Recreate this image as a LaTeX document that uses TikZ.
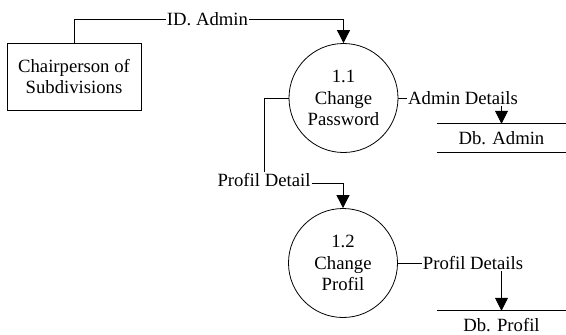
\documentclass[tikz,border=0pt]{standalone}
\usepackage{fontspec}
\setmainfont{Liberation Serif}
\usetikzlibrary{arrows.meta}
\begin{document}
\begin{tikzpicture}[x=1pt,y=-1pt,
  every node/.style={font=\fontsize{18.7}{21.5}\selectfont},
  flow/.style={line width=0.8pt},
  arr/.style={flow,-{Triangle[width=13pt,length=13pt]}},
  proc/.style={circle,draw,line width=0.8pt,minimum size=109pt,inner sep=0pt,align=center},
  ent/.style={draw,line width=0.8pt,minimum width=134pt,minimum height=67pt,align=center,inner sep=0pt},
  store/.style={minimum width=129pt,minimum height=28pt,inner sep=0pt},
  lbl/.style={inner sep=1pt}]
\useasboundingbox (0,0) rectangle (566,335);
\node[ent] (chair) at (74,76.5) {Chairperson of\\Subdivisions};
\node[proc] (c11) at (343.5,98) {1.1\\Change\\Password};
\node[proc] (c12) at (343,263) {1.2\\Change\\Profil};
\node[lbl] (id) at (207.5,19) {ID. Admin};
\node[lbl] (ad) at (463,98) {Admin Details};
\node[lbl] (pd) at (264,180) {Profil Detail};
\node[lbl] (pds) at (473,263) {Profil Details};
\node[store] (dba) at (501.5,138) {Db. Admin};
\node[store] (dbp) at (501.5,325) {Db. Profil};
\draw[flow] (dba.north west) -- (dba.north east);
\draw[flow] (dba.south west) -- (dba.south east);
\draw[flow] (dbp.north west) -- (dbp.north east);
\draw[flow] (chair.north) |- (id.west);
\draw[arr] (id.east) -| (c11.north);
\draw[flow] (c11.east) -- (ad.west);
\draw[arr] (ad.south -| dba.north) -- (dba.north);
\draw[flow] (c11.west) -| (pd.north);
\draw[arr] ([yshift=-3pt]pd.east) -| (c12.north);
\draw[flow] (c12.east) -- (pds.west);
\draw[arr] (pds.south -| dbp.north) -- (dbp.north);
\end{tikzpicture}
\end{document}
